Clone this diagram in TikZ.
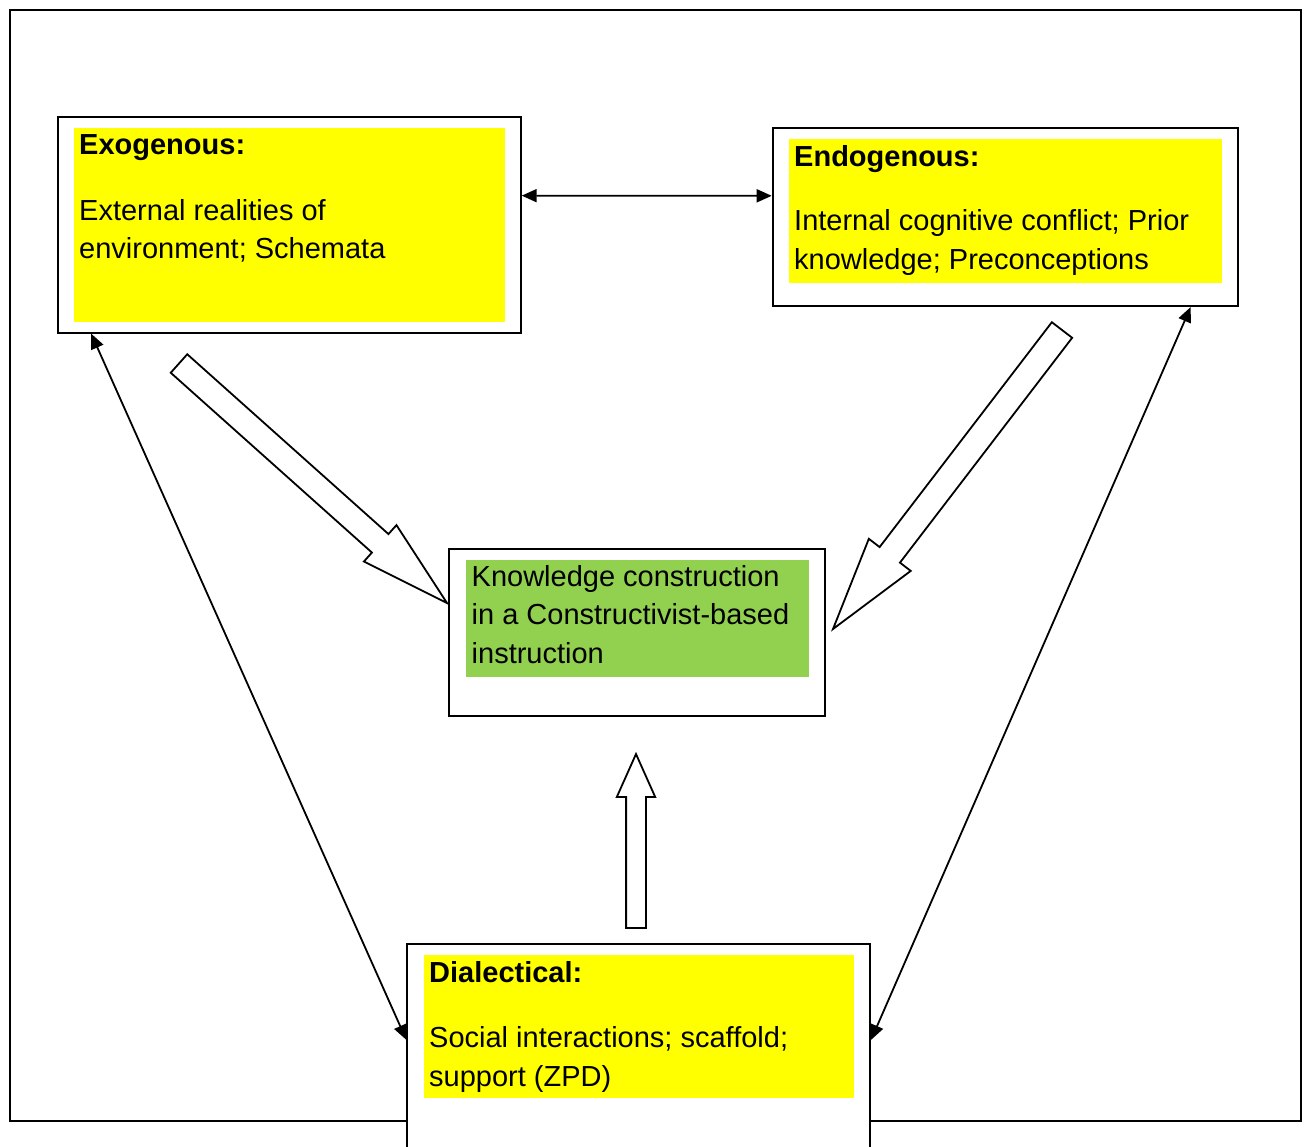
\documentclass[tikz,border=0pt]{standalone}
\usepackage{fontspec}
\setmainfont{Liberation Sans}
\usetikzlibrary{calc, arrows.meta}

\definecolor{hiyellow}{HTML}{FFFF00}
\definecolor{leafgreen}{HTML}{92D050}

\tikzset{
  box/.style={draw, fill=white, line width=2pt, inner sep=0pt},
  patch/.style={fill=#1, inner sep=0pt},
  txt/.style={anchor=base west, inner sep=0pt, align=left,
    font=\fontsize{29}{38.5}\selectfont},
  head/.style={txt, font=\fontsize{29}{38.5}\selectfont\bfseries},
  link/.style={line width=1.8pt,
    {Triangle[length=15pt,width=13pt]}-{Triangle[length=15pt,width=13pt]}},
  hollow/.style={draw, fill=white, line width=1.8pt, line join=miter}
}

% hollow block arrow: tail, tip, half shaft, half head, head length
\newcommand{\blockarrow}[5]{%
  \coordinate (#1-b) at ($(#2)!#5!(#1)$);
  \draw[hollow] ($(#1)!#3!90:(#2)$) -- ($(#1-b)!#3!90:(#2)$)
    -- ($(#1-b)!#4!90:(#2)$) -- (#2) -- ($(#1-b)!#4!-90:(#2)$)
    -- ($(#1-b)!#3!-90:(#2)$) -- ($(#1)!#3!-90:(#2)$) -- cycle;
}

\begin{document}
\begin{tikzpicture}[x=1pt, y=-1pt]
  \clip (0,0) rectangle (1306,1146);
  \draw[line width=2.5pt] (10,10) rectangle (1301,1121);

  % the three outer boxes
  \node[box, minimum width=462.4pt, minimum height=215.4pt] (exo) at (289.5,225) {};
  \node[box, minimum width=465.6pt, minimum height=177.7pt] (endo) at (1005.5,217.2) {};
  \node[box, minimum width=375.7pt, minimum height=166.4pt] (know) at (637.2,632.5) {};

  \node[patch=hiyellow, minimum width=431pt, minimum height=194pt] (exoP) at (289.5,225.3) {};
  \node[patch=hiyellow, minimum width=432.4pt, minimum height=143.4pt] (endoP) at (1005.5,211) {};
  \node[patch=leafgreen, minimum width=343pt, minimum height=116.7pt] (knowP) at (637.5,618.3) {};

  % base of a text node = baseline of its last line
  \node[head] (exoH) at (79,154) {Exogenous:};
  \node[txt] (exoT) at (79,258.5) {External realities of\\environment; Schemata};
  \node[head] (endoH) at (794,166) {Endogenous:};
  \node[txt] (endoT) at (794,269) {Internal cognitive conflict; Prior\\knowledge; Preconceptions};
  \node[txt] (knowT) at (471.5,663.3) {Knowledge construction\\in a Constructivist-based\\instruction};

  % hollow arrows into the centre
  \coordinate (a1s) at (179,363.5);
  \coordinate (a1e) at (447,603);
  \coordinate (a2s) at (1062,330);
  \coordinate (a2e) at (833,629);
  \coordinate (a3s) at (636,928);
  \coordinate (a3e) at (636,754);
  \blockarrow{a1s}{a1e}{12.4pt}{24.4pt}{89.6pt}
  \blockarrow{a2s}{a2e}{12.8pt}{26.4pt}{93.4pt}
  \blockarrow{a3s}{a3e}{9.9pt}{19.2pt}{43pt}

  % bottom box covers the frame
  \node[box, minimum width=462.7pt, minimum height=220pt] (dial) at (638.7,1054.3) {};
  \node[patch=hiyellow, minimum width=430pt, minimum height=143.3pt] (dialP) at (639,1026.7) {};
  \node[head] (dialH) at (429,982) {Dialectical:};
  \node[txt] (dialT) at (429,1086) {Social interactions; scaffold;\\support (ZPD)};

  \draw[link] ($(exo.north east)!0.365!(exo.south east)$) -- ($(endo.north west)!0.381!(endo.south west)$);
  \draw[link] ($(exo.south west)!0.073!(exo.south east)$) -- ($(dial.north west)!0.435!(dial.south west)$);
  \draw[link] ($(endo.south west)!0.896!(endo.south east)$) -- ($(dial.north east)!0.435!(dial.south east)$);
\end{tikzpicture}
\end{document}
